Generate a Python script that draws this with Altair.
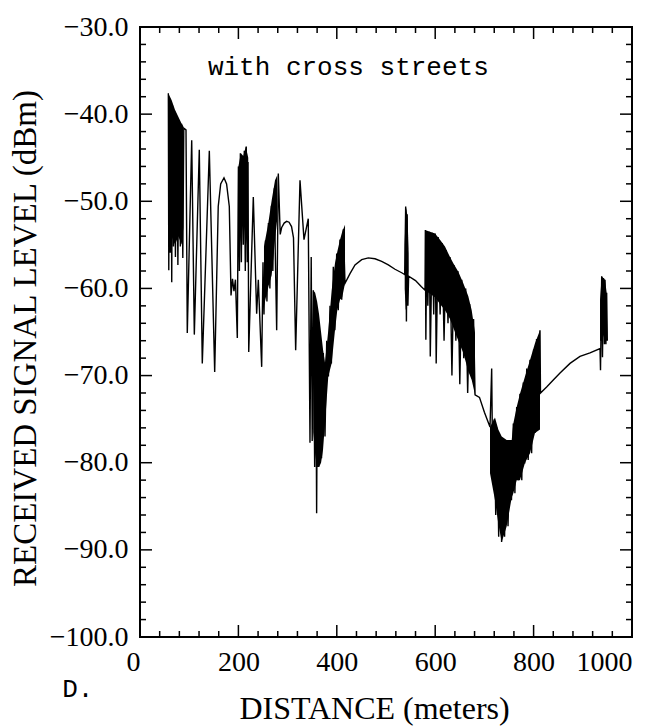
import altair as alt
import pandas as pd

# ---------------- data ----------------
# main trace (distance in m, received level in dBm)
dist = [57.6, 58.5, 60.0, 61.5, 63.0, 64.5, 66.0, 68.0, 70.0, 72.0, 74.5, 77.0, 79.5, 82.0, 84.5, 87.0, 89.0,
        93.5, 96.1, 105.1, 110.4, 120.5, 126.6, 140.9, 151.8, 159.0, 164.0, 170.7, 176.0, 181.5, 185.0, 188.0,
        191.0, 194.0, 197.8,
        200.0, 202.0, 204.0, 206.0, 208.0, 210.0, 212.0, 214.0, 216.0, 218.0, 219.5, 221.0,
        230.3, 237.1, 240.5, 247.3,
        250.0, 252.0, 255.0, 258.0, 261.0, 264.0, 267.0, 270.0, 273.0, 275.0, 277.8, 281.1,
        285.0, 288.0, 293.0, 298.0, 303.0, 308.0, 312.0, 316.4, 325.2, 333.3, 342.0,
        345.5, 348.0, 350.0, 352.2, 355.0, 357.0, 359.0, 361.0, 363.0, 366.0, 369.0, 372.6, 376.0, 379.5,
        383.0, 386.2, 389.0, 392.9, 396.0, 399.8, 403.0, 406.5, 410.0, 413.2, 416.7,
        426.8, 437.0, 450.6, 464.0, 477.6, 491.2, 504.7, 518.3, 531.9, 538.0,
        540.0, 541.5, 543.0, 544.5, 546.0, 560.0, 572.0, 579.3,
        580.0, 581.0, 583.0, 585.0, 588.0, 590.0, 594.0, 597.0, 600.0, 602.0, 606.0, 610.0, 614.0, 618.0,
        622.0, 626.0, 630.0, 634.0, 638.0, 642.0, 646.0, 650.0, 654.0, 658.0, 662.0, 666.0, 670.0, 674.0,
        678.0, 681.0,
        690.0, 700.0, 711.4, 714.8,
        717.0, 720.0, 723.0, 726.0, 729.0, 732.0, 735.0, 738.0, 741.0, 745.0, 748.0, 752.0, 755.0, 758.8,
        762.0, 765.6, 769.0, 772.3, 776.0, 779.0, 782.0, 786.0, 789.0, 792.7, 796.0, 800.0, 803.0, 806.0,
        810.0, 813.0, 814.0,
        826.5, 840.0, 853.7, 874.0, 894.3, 914.6, 935.0,
        936.0, 938.4, 940.0, 942.0, 944.0, 945.1, 947.0, 948.5, 949.8]
level = [-37.6, -57.9, -38.2, -55.9, -38.6, -59.3, -39.0, -55.2, -39.6, -56.4, -40.3, -57.3, -40.8, -55.2, -41.1, -56.5, -41.6,
         -41.8, -65.1, -43.0, -65.3, -44.1, -68.6, -44.2, -69.6, -50.6, -48.0, -47.3, -48.0, -50.6, -60.8, -58.9,
         -60.3, -59.0, -65.7,
         -46.0, -58.0, -44.5, -57.0, -45.0, -55.0, -44.2, -58.0, -43.7, -57.0, -45.5, -67.3,
         -49.5, -62.9, -59.0, -69.0,
         -57.0, -63.0, -54.5, -61.5, -52.5, -60.0, -50.5, -58.0, -48.5, -56.0, -64.8, -46.8,
         -53.8, -53.0, -52.5, -52.3, -52.4, -52.9, -54.2, -67.1, -47.6, -54.4, -52.0,
         -77.7, -56.4, -77.5, -60.2, -80.5, -62.0, -85.8, -64.0, -80.5, -66.0, -79.5, -67.4, -77.0, -66.0,
         -70.1, -62.0, -68.6, -57.5, -64.8, -56.0, -62.5, -54.4, -61.3, -53.2, -59.4,
         -58.3, -57.3, -56.7, -56.5, -56.6, -56.9, -57.3, -57.8, -58.2, -58.4,
         -50.6, -63.8, -51.5, -62.0, -58.6, -59.1, -59.8, -60.2,
         -53.3, -65.9, -54.0, -62.0, -53.5, -67.8, -53.6, -63.0, -53.7, -68.6, -54.1, -63.0, -54.8, -66.0,
         -55.6, -64.0, -56.4, -70.0, -57.3, -66.0, -58.0, -71.0, -59.0, -68.0, -60.0, -72.0, -61.8, -70.0,
         -63.5, -72.2,
         -72.5, -74.2, -75.9, -69.2,
         -82.0, -75.0, -86.0, -76.0, -88.5, -77.0, -89.1, -77.4, -88.5, -77.4, -87.3, -77.4, -84.3, -75.5,
         -83.5, -73.6, -82.0, -72.1, -82.0, -70.8, -80.1, -69.2, -79.7, -68.2, -78.9, -67.0, -76.6, -65.8,
         -76.2, -64.8, -72.0,
         -71.3, -70.5, -69.7, -68.6, -67.8, -67.4, -66.9,
         -69.4, -58.6, -67.9, -58.8, -66.4, -59.0, -66.4, -60.5, -66.0]

# densely oscillating stretches (upper / lower envelope)
blkA_x = [57.6, 64.4, 71.1, 77.9, 84.7, 88.1]
blkA_hi = [-37.6, -38.4, -39.5, -40.3, -41.1, -41.4]
blkA_lo = [-53.0, -54.0, -55.0, -54.0, -55.0, -53.0]

blkB_x = [200.0, 205.0, 210.0, 215.0, 220.0]
blkB_hi = [-46.0, -44.5, -44.8, -43.7, -45.0]
blkB_lo = [-56.0, -54.0, -52.0, -54.0, -56.0]

blkC_x = [252.0, 260.8, 267.6, 274.4, 279.0]
blkC_hi = [-55.2, -52.5, -49.9, -47.6, -47.0]
blkC_lo = [-62.0, -59.8, -58.5, -54.4, -52.0]

blkD_x = [352.2, 356.0, 360.0, 364.0, 368.0, 372.0, 376.0, 382.7, 389.6, 396.3, 401.0, 406.5, 411.0, 416.7]
blkD_hi = [-60.2, -60.5, -61.5, -63.0, -65.0, -67.0, -68.5, -64.8, -60.2, -57.1, -55.8, -54.4, -53.5, -52.7]
blkD_lo = [-76.5, -79.0, -80.5, -80.5, -80.0, -78.5, -75.5, -70.1, -68.6, -64.8, -62.5, -61.3, -61.0, -59.4]

blkF_x = [538.0, 540.0, 542.0, 544.0, 546.0]
blkF_hi = [-55.0, -50.6, -51.0, -52.0, -56.0]
blkF_lo = [-60.0, -62.5, -62.0, -60.0, -58.0]

blkG_x = [579.3, 599.6, 609.8, 619.9, 630.1, 636.8, 647.0, 657.1, 667.3, 674.2, 680.9]
blkG_hi = [-53.3, -53.7, -54.4, -55.2, -56.4, -57.1, -58.1, -59.4, -60.9, -62.5, -65.1]
blkG_lo = [-60.2, -61.0, -61.8, -62.5, -63.5, -64.5, -66.0, -67.4, -69.5, -70.5, -72.2]

blkV_x = [711.4, 721.5, 728.3, 735.2, 745.3, 755.5, 758.8, 765.6, 772.3, 782.5, 792.7, 802.8, 813.0]
blkV_hi = [-75.9, -74.8, -76.2, -77.0, -77.4, -77.4, -75.5, -73.6, -72.1, -70.1, -68.2, -66.3, -64.8]
blkV_lo = [-81.2, -84.3, -87.0, -89.1, -87.3, -84.0, -83.5, -82.0, -82.0, -80.0, -78.9, -76.6, -76.2]

blkK_x = [935.0, 938.4, 945.1, 948.5, 949.8]
blkK_hi = [-61.3, -58.6, -59.0, -60.5, -65.8]
blkK_lo = [-66.0, -66.0, -65.0, -64.0, -66.0]

# axes
x_major = [0, 200, 400, 600, 800, 1000]
x_minor = [40, 80, 120, 160, 240, 280, 320, 360, 440, 480, 520, 560, 640, 680, 720, 760, 840, 880, 920, 960]
y_major = [-30, -40, -50, -60, -70, -80, -90, -100]
y_minor = [-32, -34, -36, -38, -42, -44, -46, -48, -52, -54, -56, -58, -62, -64, -66, -68,
           -72, -74, -76, -78, -82, -84, -86, -88, -92, -94, -96, -98]

notes = ["with cross streets", "D."]
note_x = [138.0, -158.0]
note_y = [-35.5, -106.9]

# ---------------- chart ----------------
W, H = 492, 610
xs = alt.Scale(domain=[0, 1000], nice=False, zero=False)
ys = alt.Scale(domain=[-100, -30], nice=False, zero=False)

trace = pd.DataFrame({"d": dist, "s": level, "i": list(range(len(dist)))})

blocks = []
for name, bx, bh, bl in [("A", blkA_x, blkA_hi, blkA_lo), ("B", blkB_x, blkB_hi, blkB_lo),
                         ("C", blkC_x, blkC_hi, blkC_lo), ("D", blkD_x, blkD_hi, blkD_lo),
                         ("F", blkF_x, blkF_hi, blkF_lo), ("G", blkG_x, blkG_hi, blkG_lo),
                         ("V", blkV_x, blkV_hi, blkV_lo), ("K", blkK_x, blkK_hi, blkK_lo)]:
    for a, b, c in zip(bx, bh, bl):
        blocks.append({"blk": name, "d": a, "s": b, "lo": c})
bands = pd.DataFrame(blocks)

serif = "Liberation Serif"
XT = "DISTANCE (meters)"
YT = "RECEIVED SIGNAL LEVEL (dBm)"

x_axis = alt.Axis(
    values=x_major, format="d", grid=False, ticks=False, domain=False,
    labelFont=serif, labelFontSize=28, labelColor="black", labelPadding=33,
    labelBaseline="alphabetic", labelFlush=False, labelOverlap=False,
    labelAlign={"condition": {"test": "datum.value == 0 || datum.value == 1000", "value": "right"},
                "value": "center"},
    title=XT, titleFont=serif, titleFontSize=32, titleFontWeight="normal",
    titleColor="black", titleX=234, titleY=81, titleBaseline="alphabetic", titleAlign="center",
)
y_axis = alt.Axis(
    values=y_major, format=".1f", grid=False, ticks=False, domain=False,
    labelFont=serif, labelFontSize=28, labelColor="black", labelPadding=12,
    labelOverlap=False, labelFlush=False,
    title=YT, titleFont=serif, titleFontSize=33, titleFontWeight="normal",
    titleColor="black", titleX=-105, titleY=311, titleAngle=270, titleBaseline="alphabetic",
    titleAlign="center",
)

X = lambda f: alt.X(f, scale=xs, axis=x_axis, title=XT)
Y = lambda f: alt.Y(f, scale=ys, axis=y_axis, title=YT)

line = alt.Chart(trace).mark_line(color="black", strokeWidth=1.4, clip=True).encode(
    x=X("d:Q"), y=Y("s:Q"), order="i:Q",
)

area = alt.Chart(bands).mark_area(color="black", opacity=1, clip=True).encode(
    x=X("d:Q"), y=Y("s:Q"), y2="lo:Q", detail="blk:N",
)

def rules_x(vals, length, top):
    df = pd.DataFrame({"d": vals})
    y0 = 0 if top else H
    y1 = length if top else H - length
    return alt.Chart(df).mark_rule(color="black", strokeWidth=1.5).encode(
        x=X("d:Q"), y=alt.value(y0), y2=alt.value(y1))

def rules_y(vals, length, right):
    df = pd.DataFrame({"s": vals})
    x0 = W if right else 0
    x1 = W - length if right else length
    return alt.Chart(df).mark_rule(color="black", strokeWidth=1.5).encode(
        y=Y("s:Q"), x=alt.value(x0), x2=alt.value(x1))

ticks = [rules_x(x_major, 12, False), rules_x(x_minor, 6, False),
         rules_x(x_major, 12, True), rules_x(x_minor, 6, True),
         rules_y(y_major, 12, False), rules_y(y_minor, 6, False),
         rules_y(y_major, 12, True), rules_y(y_minor, 6, True)]

note_df = pd.DataFrame({"t": notes, "d": note_x, "s": note_y})
text = alt.Chart(note_df).mark_text(align="left", baseline="alphabetic", font="Liberation Mono",
                                    fontSize=26, color="black").encode(
    x=X("d:Q"), y=Y("s:Q"), text="t:N",
)

chart = alt.layer(line, area, *ticks, text).properties(
    width=W, height=H, autosize="none",
    padding={"left": 140, "top": 27, "right": 14, "bottom": 90},
    background="white",
).configure_view(stroke="black", strokeWidth=2)

chart.save("out.html", embed_options={"renderer": "svg", "actions": False})
